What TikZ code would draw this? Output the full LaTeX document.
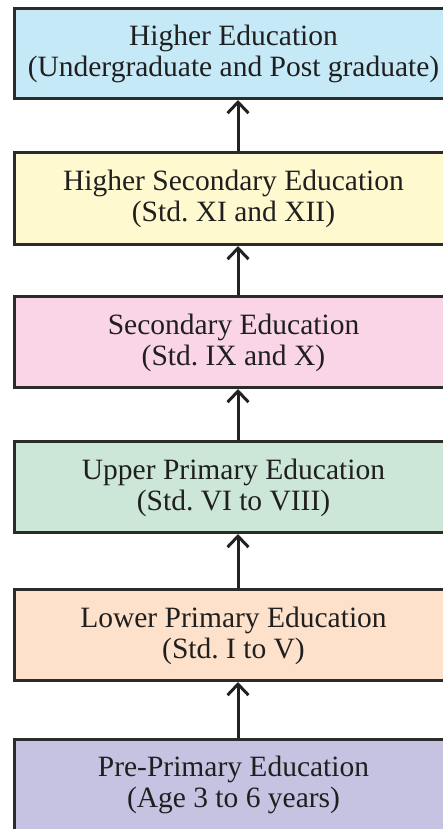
\documentclass[tikz,border=0pt]{standalone}
\usepackage{fontspec}
\setmainfont{Liberation Serif}
\usetikzlibrary{arrows.meta}
\frenchspacing
\definecolor{bordc}{HTML}{2B2B2B}
\definecolor{cblue}{HTML}{C6E9F8}
\definecolor{cyellow}{HTML}{FFF9CF}
\definecolor{cpink}{HTML}{F9D5E7}
\definecolor{cgreen}{HTML}{CCE6D7}
\definecolor{cpeach}{HTML}{FEE1CB}
\definecolor{clav}{HTML}{C6C3E2}
\tikzset{
  stagebox/.style={draw=bordc, line width=3pt, rectangle, inner sep=0pt,
    minimum width=446pt, minimum height=91pt},
  stagetext/.style={align=center, font=\frenchspacing\fontsize{29.5pt}{31pt}\selectfont, text=black!88, inner sep=0pt},
  uparrow/.style={draw=bordc!80!black, line width=3pt, -{Straight Barb[length=11pt,width=21pt,line width=3pt]}}
}
\begin{document}
\begin{tikzpicture}[x=1pt,y=-1pt]
\useasboundingbox (0,0) rectangle (442,829);
\node[stagebox, fill=cblue, minimum height=90pt] (b1) at (237.5,53.5) {};
\node[stagebox, fill=cyellow, minimum height=92pt] (b2) at (237.5,198.5) {};
\node[stagebox, fill=cpink] (b3) at (237.5,342) {};
\node[stagebox, fill=cgreen] (b4) at (237.5,487) {};
\node[stagebox, fill=cpeach] (b5) at (237.5,635) {};
\node[stagebox, fill=clav, minimum height=100pt] (b6) at (237.5,789.5) {};
\node[stagetext] (t1) at (233.5,54) {Higher Education\\(Undergraduate and Post graduate)};
\node[stagetext] (t2) at (233.5,199) {Higher Secondary Education\\(Std. XI and XII)};
\node[stagetext] (t3) at (233.5,342.5) {Secondary Education\\(Std. IX and X)};
\node[stagetext] (t4) at (233.5,487.5) {Upper Primary Education\\(Std. VI to VIII)};
\node[stagetext] (t5) at (233.5,635.5) {Lower Primary Education\\(Std. I to V)};
\node[stagetext] (t6) at (233.5,784.5) {Pre-Primary Education\\(Age 3 to 6 years)};
\foreach \lo/\hi in {b2/b1,b3/b2,b4/b3,b5/b4,b6/b5}{
  \draw[uparrow] ([xshift=0.5pt]\lo.north) -- ([xshift=0.5pt]\hi.south);
}
\end{tikzpicture}
\end{document}
